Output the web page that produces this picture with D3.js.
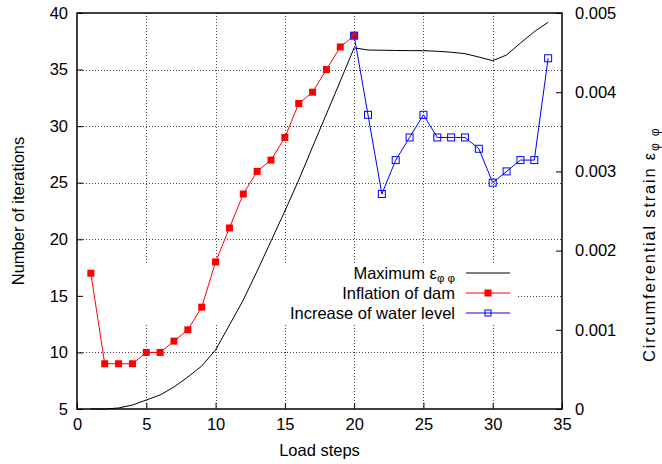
<!DOCTYPE html>
<html>
<head>
<meta charset="utf-8">
<script src="https://cdn.jsdelivr.net/npm/d3@7/dist/d3.min.js"></script>
<style>
  body { margin: 0; background: #fff; }
  svg text { font-family: "Liberation Sans", Arial, sans-serif; font-size: 16.5px; fill: #000; }
</style>
</head>
<body>
<script>
// data
var inflationSteps = [1,2,3,4,5,6,7,8,9,10,11,12,13,14,15,16,17,18,19,20];
var inflationIters = [17,9,9,9,10,10,11,12,14,18,21,24,26,27,29,32,33,35,37,38];

var waterSteps = [20,21,22,23,24,25,26,27,28,29,30,31,32,33,34];
var waterIters = [38,31,24,27,29,31,29,29,29,28,25,26,27,27,36];

var strainSteps = [1,2,3,4,5,6,7,8,9,10,11,12,13,14,15,16,17,18,19,20,21,22,23,24,25,26,27,28,29,30,31,32,33,34];
var strainVals = [0,0,0.000013,0.00005,0.000114,0.000177,0.000278,0.000404,0.000543,0.000745,
                  0.00106,0.001376,0.001742,0.00212,0.0025,0.00289,0.00331,0.003725,0.00414,0.00456,
                  0.004533,0.00453,0.004527,0.004525,0.004524,0.004517,0.004505,0.004487,0.004444,0.004398,
                  0.00447,0.00462,0.004764,0.004883];

var xTicks = [0,5,10,15,20,25,30,35];
var yTicks = [5,10,15,20,25,30,35,40];
var y2Ticks = [0,0.001,0.002,0.003,0.004,0.005];

var w = 662, h = 464;
var pL = 77, pR = 562, pT = 13, pB = 409;

var svg = d3.select("body").append("svg")
    .attr("width", w).attr("height", h);

var x = d3.scaleLinear().domain([0,35]).range([pL,pR]);
var y = d3.scaleLinear().domain([5,40]).range([pB,pT]);
var y2 = d3.scaleLinear().domain([0,0.005]).range([pB,pT]);

//grid
var grid = svg.append("g")
    .attr("stroke", "#444").attr("stroke-width", 1).attr("stroke-dasharray", "1,2");
grid.selectAll("line.vx")
    .data(xTicks.filter(d => d > 0 && d < 35))
    .enter().append("line")
    .attr("x1", d => Math.round(x(d)) + 0.5).attr("x2", d => Math.round(x(d)) + 0.5)
    .attr("y1", pT).attr("y2", pB);
grid.selectAll("line.hy")
    .data(yTicks.filter(d => d > 5 && d < 40))
    .enter().append("line")
    .attr("y1", d => Math.round(y(d)) + 0.5).attr("y2", d => Math.round(y(d)) + 0.5)
    .attr("x1", pL).attr("x2", pR);

// opaque key area
svg.append("rect")
    .attr("x", pL + 1).attr("y", 263).attr("width", 517 - pL).attr("height", 62)
    .attr("fill", "#fff");

//axes
svg.append("g")
    .attr("transform", "translate(0," + pB + ")")
    .call(d3.axisBottom(x).tickValues(xTicks).tickSizeInner(-6).tickSizeOuter(0).tickPadding(9))
    .call(g => g.select(".domain").remove());
svg.append("g")
    .attr("transform", "translate(" + pL + ",0)")
    .call(d3.axisLeft(y).tickValues(yTicks).tickSizeInner(-6).tickSizeOuter(0).tickPadding(9))
    .call(g => g.select(".domain").remove());
svg.append("g")
    .attr("transform", "translate(" + pR + ",0)")
    .call(d3.axisRight(y2).tickValues(y2Ticks).tickSizeInner(-6).tickSizeOuter(0).tickPadding(13)
        .tickFormat(d => d === 0 ? "0" : d3.format(".3f")(d)))
    .call(g => g.select(".domain").remove());
svg.selectAll(".tick text").attr("font-size", null).attr("font-family", null);
svg.selectAll(".tick line").attr("stroke", "#000");

svg.append("rect")
    .attr("x", pL).attr("y", pT).attr("width", pR - pL).attr("height", pB - pT)
    .attr("fill", "none").attr("stroke", "#000").attr("stroke-width", 1.5);

//lines
var strainLine = d3.line().x((d, i) => x(strainSteps[i])).y(d => y2(d));
svg.append("path").datum(strainVals)
    .attr("d", strainLine).attr("fill", "none").attr("stroke", "#000").attr("stroke-width", 1);

var iterLine = d3.line().x(d => x(d[0])).y(d => y(d[1]));
var inflation = inflationSteps.map((s, i) => [s, inflationIters[i]]);
var water = waterSteps.map((s, i) => [s, waterIters[i]]);

svg.append("path").datum(inflation)
    .attr("d", iterLine).attr("fill", "none").attr("stroke", "#ff0000").attr("stroke-width", 1);
svg.selectAll("rect.red").data(inflation).enter().append("rect")
    .attr("x", d => x(d[0]) - 3.5).attr("y", d => y(d[1]) - 3.5)
    .attr("width", 7).attr("height", 7).attr("fill", "#ff0000");

svg.append("path").datum(water)
    .attr("d", iterLine).attr("fill", "none").attr("stroke", "#0000ff").attr("stroke-width", 1);
svg.selectAll("rect.blue").data(water).enter().append("rect")
    .attr("x", d => x(d[0]) - 3.5).attr("y", d => y(d[1]) - 3.5)
    .attr("width", 7).attr("height", 7).attr("fill", "none")
    .attr("stroke", "#0000ff").attr("stroke-width", 1);

//legend
var key = svg.append("g");
var rows = [
    {label: "Maximum ε", sub: "φ φ", color: "#000", mark: null, yy: 273},
    {label: "Inflation of dam", sub: null, color: "#ff0000", mark: "fill", yy: 293},
    {label: "Increase of water level", sub: null, color: "#0000ff", mark: "open", yy: 313}
];
rows.forEach(r => {
    var t = key.append("text").attr("x", 455).attr("y", r.yy).attr("dy", "0.35em")
        .attr("text-anchor", "end");
    t.append("tspan").text(r.label);
    if (r.sub) t.append("tspan").attr("dy", 3).attr("font-size", "11.5px").text(r.sub);
    key.append("line").attr("x1", 466).attr("x2", 510).attr("y1", r.yy).attr("y2", r.yy)
        .attr("stroke", r.color).attr("stroke-width", 1);
    if (r.mark == "fill")
        key.append("rect").attr("x", 484.5).attr("y", r.yy - 3.5).attr("width", 7).attr("height", 7)
            .attr("fill", r.color);
    if (r.mark == "open")
        key.append("rect").attr("x", 485).attr("y", r.yy - 3).attr("width", 6).attr("height", 6)
            .attr("fill", "none").attr("stroke", r.color);
});

//titles
svg.append("text").attr("x", (pL + pR) / 2).attr("y", 456)
    .attr("text-anchor", "middle").text("Load steps");
svg.append("text").attr("transform", "translate(24,211) rotate(-90)")
    .attr("text-anchor", "middle").text("Number of iterations");
var rt = svg.append("text").attr("transform", "translate(655,362) rotate(-90)")
    .attr("text-anchor", "start").attr("letter-spacing", "1.8px");
rt.append("tspan").text("Circumferential strain ε");
rt.append("tspan").attr("dy", 4).attr("font-size", "12px").text("φ φ");
</script>
</body>
</html>
